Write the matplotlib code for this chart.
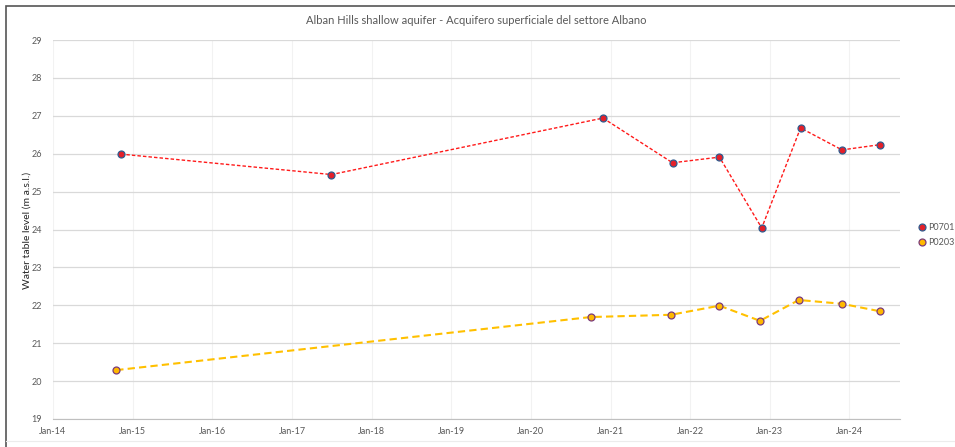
import numpy as np
import pandas as pd
import matplotlib
matplotlib.use('Agg')
import matplotlib.pyplot as plt
import matplotlib.dates as mdates
from matplotlib.patches import Rectangle
from matplotlib.lines import Line2D

plt.rcParams['font.family'] = ['Lato', 'DejaVu Sans']

TEXT_COLOR = '#595959'
GRID_COLOR = '#d9d9d9'

title = 'Alban Hills shallow aquifer - Acquifero superficiale del settore Albano'
y_label = 'Water table level (m a.s.l.)'

p0701_dates = ['2014-11-08', '2017-07-01', '2020-11-27', '2021-10-12', '2022-05-15',
               '2022-11-25', '2023-05-22', '2023-11-28', '2024-05-22']
p0701_level = [25.99, 25.45, 26.94, 25.76, 25.91, 24.04, 26.68, 26.10, 26.24]

p0203_dates = ['2014-10-18', '2020-10-01', '2021-10-05', '2022-05-15', '2022-11-17',
               '2023-05-14', '2023-11-28', '2024-05-22']
p0203_level = [20.29, 21.69, 21.75, 21.99, 21.59, 22.14, 22.04, 21.84]

series_names = ['P0701', 'P0203']

fig = plt.figure(figsize=(9.55, 4.47), dpi=100, facecolor='white')
ax = fig.add_axes([53 / 955, 1 - 419 / 447, 847 / 955, 379 / 447])

# outer frame of the original chart (cropped at right/bottom)
fig.patches.append(Rectangle((6 / 955, -0.2), 1.2, 1 - 6 / 447 + 0.2, transform=fig.transFigure,
                             fill=False, edgecolor='#555555', linewidth=1.2, zorder=0))
fig.add_artist(Line2D([6 / 955, 1], [1 - 441 / 447] * 2, transform=fig.transFigure,
                      color='#ececec', linewidth=0.8))

d1 = pd.to_datetime(p0701_dates)
d2 = pd.to_datetime(p0203_dates)

ax.plot(d1, p0701_level, linestyle=(0, (2.5, 1.5)), color='#ff1a1a', linewidth=1.0,
        marker='o', markersize=5, markerfacecolor='#e3202a', markeredgecolor='#2f5c8f',
        markeredgewidth=0.9, zorder=3)
ax.plot(d2, p0203_level, linestyle=(0, (3.5, 2)), color='#ffc000', linewidth=1.5,
        marker='o', markersize=5, markerfacecolor='#ffb800', markeredgecolor='#7a3a7a',
        markeredgewidth=0.9, zorder=3)

ax.set_xlim(pd.Timestamp('2014-01-01'), pd.Timestamp('2024-08-20'))
ax.set_ylim(19, 29)
ax.set_yticks(np.arange(19, 30, 1))
ax.xaxis.set_major_locator(mdates.YearLocator())
ax.xaxis.set_major_formatter(mdates.DateFormatter('%b-%y'))

ax.grid(True, axis='y', color=GRID_COLOR, linewidth=0.9, zorder=0)
ax.grid(True, axis='x', color='#f2f2f2', linewidth=0.8, zorder=0)
for s in ['top', 'right', 'left']:
    ax.spines[s].set_visible(False)
ax.spines['bottom'].set_color('#bfbfbf')
ax.tick_params(axis='both', length=0, labelsize=6.5, colors=TEXT_COLOR)
ax.tick_params(axis='y', pad=8)
ax.tick_params(axis='x', pad=6)

fig.text(27 / 955, 1 - 230 / 447, y_label, rotation=90, ha='center', va='center',
         fontsize=7.5, color='#262626')
fig.text(476.5 / 955, 1 - 20 / 447, title, ha='center', va='center',
         fontsize=8, color=TEXT_COLOR)

handles = [
    Line2D([], [], linestyle='none', marker='o', markersize=5, markerfacecolor='#e3202a',
           markeredgecolor='#2f5c8f', markeredgewidth=0.9),
    Line2D([], [], linestyle='none', marker='o', markersize=5, markerfacecolor='#ffb800',
           markeredgecolor='#7a3a7a', markeredgewidth=0.9),
]
fig.legend(handles, series_names, loc='center left', bbox_to_anchor=(915 / 955, 1 - 235 / 447),
           frameon=False, fontsize=6.5, labelcolor=TEXT_COLOR, handlelength=0.6,
           handletextpad=0.3, labelspacing=0.6, borderpad=0)

fig.savefig('out.png', dpi=100, facecolor='white')
